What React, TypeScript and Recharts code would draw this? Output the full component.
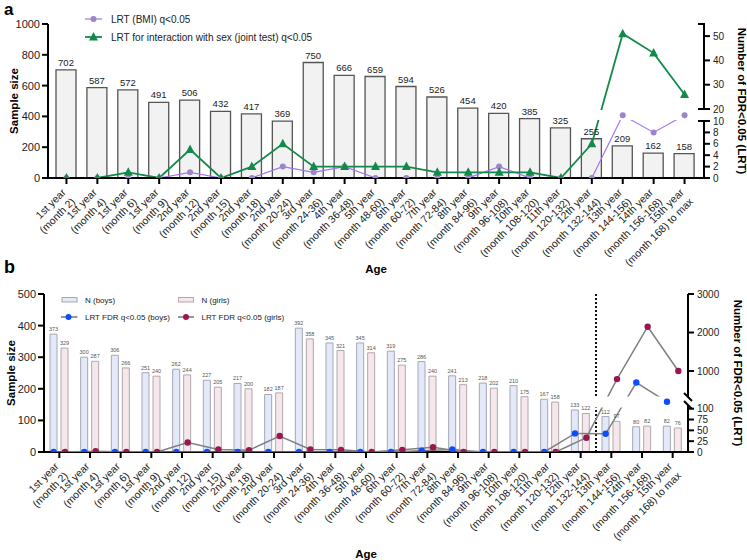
import React from "react";
import {
  ComposedChart,
  Bar,
  Line,
  Scatter,
  XAxis,
  YAxis,
  LabelList,
  ReferenceArea,
  ReferenceLine,
} from "recharts";

const FONT = "Arial, 'Liberation Sans', Helvetica, sans-serif";

const ageLabels = [
  "1st year\n(month 2)",
  "1st year\n(month 4)",
  "1st year\n(month 6)",
  "1st year\n(month 9)",
  "2nd year\n(month 12)",
  "2nd year\n(month 15)",
  "2nd year\n(month 18)",
  "2nd year\n(month 20-24)",
  "3rd year\n(month 24-36)",
  "4th year\n(month 36-48)",
  "5th year\n(month 48-60)",
  "6th year\n(month 60-72)",
  "7th year\n(month 72-84)",
  "8th year\n(month 84-96)",
  "9th year\n(month 96-108)",
  "10th year\n(month 108-120)",
  "11th year\n(month 120-132)",
  "12th year\n(month 132-144)",
  "13th year\n(month 144-156)",
  "14th year\n(month 156-168)",
  "15th year\n(month 168) to max",
];

// panel a
const sampleSize = [702, 587, 572, 491, 506, 432, 417, 369, 750, 666, 659, 594, 526, 454, 420, 385, 325, 255, 209, 162, 158];
const lrtBmi = [0, 0, 0, 0, 1, 0, 0, 2, 1, 2, 0, 0, 0, 0, 2, 0, 0, 0, 11, 8, 11];
const lrtSex = [0, 0, 1, 0, 5, 0, 2, 6, 2, 2, 2, 2, 1, 1, 1, 1, 0, 6, 51, 43, 26];

// panel b
const nBoys = [373, 300, 306, 251, 262, 227, 217, 182, 392, 345, 345, 319, 286, 241, 218, 210, 167, 133, 112, 80, 82];
const nGirls = [329, 287, 266, 240, 244, 205, 200, 187, 358, 321, 314, 275, 240, 213, 202, 175, 158, 122, 97, 82, 76];
const fdrBoys = [0, 0, 0, 0, 0, 0, 0, 0, 0, 0, 0, 0, 3, 6, 0, 0, 0, 43, 42, 700, 200];
const fdrGirls = [0, 2, 0, 0, 22, 6, 4, 37, 6, 5, 0, 5, 11, 0, 0, 0, 0, 33, 790, 2150, 1000];

const rightTicksA = [0, 2, 4, 6, 8, 10, 20, 30, 40, 50];
const rightTicksB = [0, 25, 50, 75, 100, 1000, 2000, 3000];

// the right axes are broken: map a count to pixels above the baseline
const brkA = (v: number) => (v <= 12 ? v * 5.7 : 69 + (v - 20) * 2.43);
const brkB = (v: number) => (v <= 100 ? v * 0.433 : 81 + (v - 1000) * 0.0385);

const segsA = [
  { host: 0, lo: 0, hi: brkA(10), mark: "cap", markLo: false },
  { host: 20, lo: brkA(20), hi: 154, mark: "cap", markLo: true },
];
const segsB = [
  { host: 0, lo: 0, hi: 47, mark: "slashHi", markLo: false },
  { host: 1000, lo: 55, hi: 158, mark: "slashLo", markLo: true },
];

const dataA = ageLabels.map((age, i) => ({
  age,
  n: sampleSize[i],
  bmi: brkA(lrtBmi[i]),
  sex: brkA(lrtSex[i]),
}));
const bmiPts = lrtBmi.map((v, i) => ({ x: i, y: brkA(v) }));
const sexPts = lrtSex.map((v, i) => ({ x: i, y: brkA(v) }));

const dataB = ageLabels.map((age, i) => ({ age, boys: nBoys[i], girls: nGirls[i] }));
const boysPts = fdrBoys.map((v, i) => ({ x: i - 0.185, y: brkB(v) }));
const girlsPts = fdrGirls.map((v, i) => ({ x: i + 0.185, y: brkB(v) }));

const axisStyle = { stroke: "#000", strokeWidth: 2 };
const PURPLE = "#a274ee";
const PURPLE_DOT = "#9c85c9";
const GREEN = "#138a4b";
const BLUE = "#0b4dff";
const MAROON = "#9b1650";

function AgeTick(props: any) {
  const { x, y, payload } = props;
  const [l1, l2] = String(payload.value).split("\n");
  return (
    <g transform={`translate(${x},${y})`}>
      <text transform="rotate(-45)" textAnchor="end" fontSize={10.5} fill="#222" fontFamily={FONT}>
        <tspan x={-5} y={5}>{l1}</tspan>
        <tspan x={-5} y={18}>{l2}</tspan>
      </text>
    </g>
  );
}

function RightTick(props: any) {
  const { x, y, payload, raws, brk, segs, fontSize } = props;
  const raw = raws.find((r: number) => Math.abs(brk(r) - payload.value) < 1e-6);
  const ax = x - 9;
  const seg = segs.find((s: any) => s.host === raw);
  let segEl = null;
  if (seg) {
    const yLo = y + (brk(seg.host) - seg.lo);
    const yHi = y - (seg.hi - brk(seg.host));
    segEl = (
      <g stroke="#000" strokeWidth={2}>
        <line x1={ax} x2={ax} y1={yLo} y2={yHi} />
        {seg.mark === "cap" && <line x1={ax - 6} x2={ax + 1} y1={yHi} y2={yHi} />}
        {seg.mark === "cap" && seg.markLo && <line x1={ax - 6} x2={ax + 1} y1={yLo} y2={yLo} />}
        {seg.mark === "slashHi" && <line x1={ax - 4} x2={ax + 4} y1={yHi - 4} y2={yHi + 4} />}
        {seg.mark === "slashLo" && <line x1={ax - 4} x2={ax + 4} y1={yLo - 4} y2={yLo + 4} />}
      </g>
    );
  }
  return (
    <g>
      {segEl}
      <text x={x} y={y} dy="0.35em" textAnchor="start" fontSize={fontSize} fill="#222" fontFamily={FONT}>
        {raw}
      </text>
    </g>
  );
}

function XTitle(props: any) {
  const { viewBox, dy } = props;
  return (
    <text x={viewBox.x + viewBox.width / 2} y={viewBox.y + dy} textAnchor="middle" fontSize={11.5} fontWeight="bold" fill="#000" fontFamily={FONT}>
      Age
    </text>
  );
}

function YTitle(props: any) {
  const { viewBox, dx, rot, text } = props;
  const x = viewBox.x + dx;
  const y = viewBox.y + viewBox.height / 2;
  return (
    <g transform={`translate(${x},${y}) rotate(${rot})`}>
      <text x={0} y={0} textAnchor="middle" fontSize={11.5} fontWeight="bold" fill="#000" fontFamily={FONT}>
        {text}
      </text>
    </g>
  );
}

const circleDot = (fill: string, r: number) => (p: any) => <circle cx={p.cx} cy={p.cy} r={r} fill={fill} />;
const triangleDot = (p: any) => (
  <polygon points={`${p.cx},${p.cy - 5} ${p.cx - 4.5},${p.cy + 3.5} ${p.cx + 4.5},${p.cy + 3.5}`} fill={GREEN} />
);
const noDot = () => <g />;

function PanelA() {
  return (
    <ComposedChart width={747} height={280} data={dataA} margin={{ top: 24, right: 0, bottom: 7, left: 0 }}>
      <XAxis
        xAxisId="cat"
        dataKey="age"
        height={95}
        interval={0}
        padding={{ left: 3, right: 4 }}
        tick={<AgeTick />}
        axisLine={axisStyle}
        tickLine={axisStyle}
        tickSize={6}
        label={<XTitle dy={95} />}
      />
      <XAxis xAxisId="num" type="number" dataKey="x" domain={[-0.5, 20.5]} padding={{ left: 3, right: 4 }} allowDataOverflow hide />
      <YAxis
        yAxisId="l"
        width={48}
        domain={[0, 1000]}
        ticks={[0, 200, 400, 600, 800, 1000]}
        interval={0}
        axisLine={axisStyle}
        tickLine={axisStyle}
        tickSize={6}
        tick={{ fontSize: 11, fill: "#222", fontFamily: FONT }}
        label={<YTitle dx={18} rot={-90} text="Sample size" />}
      />
      <YAxis
        yAxisId="r"
        orientation="right"
        width={43}
        type="number"
        domain={[0, 154]}
        allowDataOverflow
        ticks={rightTicksA.map(brkA)}
        interval={0}
        axisLine={false}
        tickLine={axisStyle}
        tickSize={6}
        tickMargin={3}
        tick={<RightTick raws={rightTicksA} brk={brkA} segs={segsA} fontSize={10} />}
        label={<YTitle dx={34} rot={90} text="Number of FDR<0.05 (LRT)" />}
      />
      <Bar xAxisId="cat" yAxisId="l" dataKey="n" barSize={20} fill="#f2f2f2" stroke="#555" strokeWidth={1.3} isAnimationActive={false}>
        <LabelList dataKey="n" position="top" offset={4} fontSize={9.5} fill="#222" fontFamily={FONT} />
      </Bar>
      <Line xAxisId="cat" yAxisId="r" dataKey="bmi" stroke={PURPLE} strokeWidth={1.2} dot={false} isAnimationActive={false} />
      <Line xAxisId="cat" yAxisId="r" dataKey="sex" stroke={GREEN} strokeWidth={1.8} dot={false} isAnimationActive={false} />
      <ReferenceArea
        xAxisId="num"
        yAxisId="r"
        x1={16.6}
        x2={20.4}
        y1={brkA(10) + 1}
        y2={brkA(20) - 1}
        fill="#fff"
        fillOpacity={1}
        stroke="none"
        zIndex={650}
      />
      <Scatter xAxisId="num" yAxisId="r" data={bmiPts} dataKey="y" shape={circleDot(PURPLE_DOT, 3)} isAnimationActive={false} zIndex={700} />
      <Scatter xAxisId="num" yAxisId="r" data={sexPts} dataKey="y" shape={triangleDot} isAnimationActive={false} zIndex={710} />
    </ComposedChart>
  );
}

function PanelB() {
  return (
    <ComposedChart width={747} height={280} data={dataB} margin={{ top: 14, right: 0, bottom: 8, left: 0 }} barGap={4}>
      <XAxis
        xAxisId="cat"
        dataKey="age"
        height={100}
        interval={0}
        tick={<AgeTick />}
        axisLine={axisStyle}
        tickLine={axisStyle}
        tickSize={6}
        label={<XTitle dy={106} />}
      />
      <XAxis xAxisId="num" type="number" dataKey="x" domain={[-0.5, 20.5]} allowDataOverflow hide />
      <YAxis
        yAxisId="l"
        width={44}
        domain={[0, 500]}
        ticks={[0, 100, 200, 300, 400, 500]}
        interval={0}
        axisLine={axisStyle}
        tickLine={axisStyle}
        tickSize={6}
        tick={{ fontSize: 11, fill: "#222", fontFamily: FONT }}
        label={<YTitle dx={15} rot={-90} text="Sample size" />}
      />
      <YAxis
        yAxisId="r"
        orientation="right"
        width={59}
        type="number"
        domain={[0, 158]}
        allowDataOverflow
        ticks={rightTicksB.map(brkB)}
        interval={0}
        axisLine={false}
        tickLine={axisStyle}
        tickSize={6}
        tickMargin={3}
        tick={<RightTick raws={rightTicksB} brk={brkB} segs={segsB} fontSize={10} />}
        label={<YTitle dx={46} rot={90} text="Number of FDR<0.05 (LRT)" />}
      />
      <Bar xAxisId="cat" yAxisId="l" dataKey="boys" barSize={7} fill="#e4e9fa" stroke="#a5a7b5" strokeWidth={1} isAnimationActive={false}>
        <LabelList dataKey="boys" position="top" offset={3} fontSize={5.5} fill="#555" fontFamily={FONT} />
      </Bar>
      <Bar xAxisId="cat" yAxisId="l" dataKey="girls" barSize={7} fill="#f5e7eb" stroke="#b2a7aa" strokeWidth={1} isAnimationActive={false}>
        <LabelList dataKey="girls" position="top" offset={3} fontSize={5.5} fill="#555" fontFamily={FONT} />
      </Bar>
      <ReferenceLine xAxisId="num" yAxisId="r" x={17.5} stroke="#111" strokeWidth={2} strokeDasharray="2 2" />
      <Scatter xAxisId="num" yAxisId="r" data={boysPts} dataKey="y" shape={noDot} line={{ stroke: "#808080", strokeWidth: 1.5 }} isAnimationActive={false} zIndex={600} />
      <Scatter xAxisId="num" yAxisId="r" data={girlsPts} dataKey="y" shape={noDot} line={{ stroke: "#808080", strokeWidth: 1.5 }} isAnimationActive={false} zIndex={600} />
      <ReferenceArea xAxisId="num" yAxisId="r" x1={16.9} x2={20.4} y1={44.5} y2={55.5} fill="#fff" fillOpacity={1} stroke="none" zIndex={650} />
      <Scatter xAxisId="num" yAxisId="r" data={boysPts} dataKey="y" shape={circleDot(BLUE, 3.2)} isAnimationActive={false} zIndex={700} />
      <Scatter xAxisId="num" yAxisId="r" data={girlsPts} dataKey="y" shape={circleDot(MAROON, 3.2)} isAnimationActive={false} zIndex={710} />
    </ComposedChart>
  );
}

export default function App() {
  return (
    <div style={{ position: "absolute", left: 0, top: 0, width: 747, height: 560, background: "#fff", fontFamily: FONT }}>
      <div style={{ position: "absolute", left: 0, top: 0 }}>
        <PanelA />
      </div>
      <div style={{ position: "absolute", left: 0, top: 280 }}>
        <PanelB />
      </div>
      <svg width={747} height={560} style={{ position: "absolute", left: 0, top: 0, pointerEvents: "none" }} fontFamily={FONT}>
        <text x={4} y={15} fontSize={17} fontWeight="bold">a</text>
        <text x={4} y={273} fontSize={18} fontWeight="bold">b</text>

        <line x1={85} x2={102} y1={19} y2={19} stroke={PURPLE} strokeWidth={1.2} />
        <circle cx={93.5} cy={19} r={3} fill={PURPLE_DOT} />
        <text x={111} y={22.5} fontSize={10} fill="#222">LRT (BMI) q&lt;0.05</text>
        <line x1={85} x2={102} y1={37} y2={37} stroke={GREEN} strokeWidth={1.8} />
        <polygon points="93.5,32 89,40.5 98,40.5" fill={GREEN} />
        <text x={111} y={40.5} fontSize={10} fill="#222">LRT for interaction with sex (joint test) q&lt;0.05</text>

        <rect x={62} y={297.5} width={15} height={4.5} fill="#e4e9fa" stroke="#a5a7b5" />
        <text x={85} y={302.5} fontSize={8} fill="#222">N (boys)</text>
        <rect x={178.5} y={297.5} width={15} height={4.5} fill="#f5e7eb" stroke="#b2a7aa" />
        <text x={201.5} y={302.5} fontSize={8} fill="#222">N (girls)</text>
        <line x1={61} x2={77.5} y1={317} y2={317} stroke="#777" strokeWidth={1.5} />
        <circle cx={68.5} cy={317} r={3} fill={BLUE} />
        <text x={85} y={320} fontSize={8} fill="#222">LRT FDR q&lt;0.05 (boys)</text>
        <line x1={178} x2={194} y1={317} y2={317} stroke="#777" strokeWidth={1.5} />
        <circle cx={186} cy={317} r={3} fill={MAROON} />
        <text x={201.5} y={320} fontSize={8} fill="#222">LRT FDR q&lt;0.05 (girls)</text>
      </svg>
    </div>
  );
}
